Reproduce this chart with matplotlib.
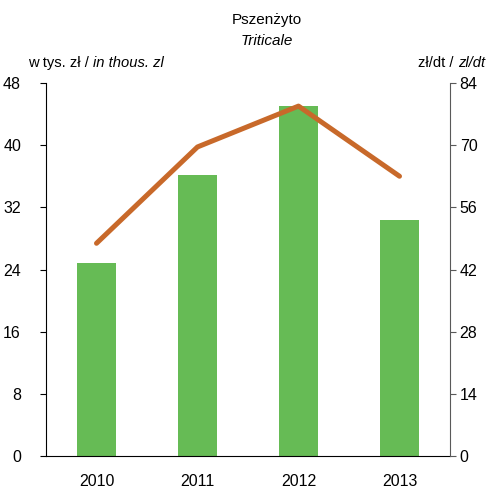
import numpy as np
import matplotlib.pyplot as plt

plt.rcParams['font.family'] = ['Liberation Sans', 'DejaVu Sans']

years = ['2010', '2011', '2012', '2013']
value_thous = [24.8, 36.1, 45.1, 30.4]   # w tys. zł, left axis
price_dt = [47.9, 69.6, 78.8, 63.0]      # zł/dt, right axis

fig = plt.figure(figsize=(4.88, 4.93), dpi=100)
ax = fig.add_axes([46 / 488, 37 / 493, 404 / 488, 373 / 493])
x = np.arange(len(years))

ax.bar(x, value_thous, width=0.39, color='#66BB55', zorder=2)
ax.set_xlim(-0.5, 3.5)
ax.set_ylim(0, 48)
ax.set_yticks(np.arange(0, 49, 8))
ax.set_xticks(x)
ax.set_xticklabels(years)
ax.tick_params(axis='x', length=0, pad=13, labelsize=11.5)
ax.tick_params(axis='y', direction='out', length=4, pad=14, labelsize=11.5)
ax.spines['top'].set_visible(False)
ax.spines['right'].set_visible(False)

ax2 = ax.twinx()
ax2.plot(x, price_dt, color='#C8692A', lw=3.6, solid_capstyle='round', zorder=3)
ax2.set_ylim(0, 84)
ax2.set_yticks(np.arange(0, 85, 14))
ax2.tick_params(axis='y', direction='out', length=4, pad=3, labelsize=11.5, color='#595959')
ax2.spines['top'].set_visible(False)
ax2.spines['left'].set_visible(False)
ax2.spines['bottom'].set_visible(False)
ax2.spines['right'].set_color('#595959')

fs = 11
fig.text(267 / 488, 1 - 20 / 493, 'Pszenżyto', ha='center', va='center', fontsize=fs)
fig.text(267 / 488, 1 - 41 / 493, 'Triticale', ha='center', va='center', fontsize=fs, style='italic')

renderer = fig.canvas.get_renderer()


def two_part(x0, y0, normal, italic, size):
    t = fig.text(x0 / 488, 1 - y0 / 493, normal, ha='left', va='center', fontsize=size)
    w = t.get_window_extent(renderer).width
    fig.text((x0 + w) / 488, 1 - y0 / 493, italic, ha='left', va='center', fontsize=size, style='italic')


two_part(28, 63, 'w tys. zł / ', 'in thous. zl', 10.6)
two_part(418, 63, 'zł/dt / ', 'zl/dt', 10.6)

fig.savefig('out.png', dpi=100)
